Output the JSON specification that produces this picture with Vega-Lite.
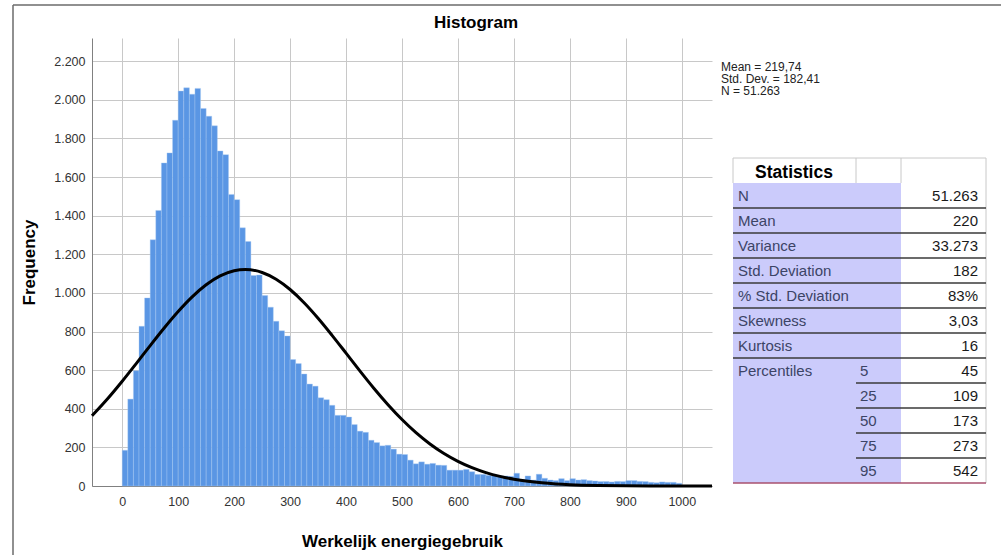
{
  "$schema": "https://vega.github.io/schema/vega-lite/v6.json",
  "width": 620,
  "height": 448,
  "autosize": {"type": "none"},
  "padding": {"left": 92, "top": 38, "right": 289, "bottom": 69},
  "background": "white",
  "title": {"text": "Histogram", "font": "Liberation Sans", "fontSize": 17, "fontWeight": "bold", "color": "#000000", "frame": "group", "anchor": "middle", "dx": 74, "offset": -28},
  "config": {
    "view": {"stroke": null},
    "font": "Liberation Sans",
    "axis": {"labelFont": "Liberation Sans", "labelFontSize": 12.5, "labelColor": "#333333", "titleFont": "Liberation Sans", "titleFontSize": 17, "titleFontWeight": "bold", "titleColor": "#000000", "domainColor": "#808080", "domainWidth": 1, "gridColor": "#c8c8c8", "gridWidth": 1, "ticks": false, "labelPadding": 7},
    "axisX": {"titlePadding": 26, "labelPadding": 9},
    "axisY": {"titlePadding": 15}
  },
  "datasets": {
    "bins": [
      {"lo":0,"hi":10,"n":185},{"lo":10,"hi":20,"n":450},{"lo":20,"hi":30,"n":597},{"lo":30,"hi":40,"n":827},{"lo":40,"hi":50,"n":974},
      {"lo":50,"hi":60,"n":1275},{"lo":60,"hi":70,"n":1427},{"lo":70,"hi":80,"n":1673},{"lo":80,"hi":90,"n":1725},{"lo":90,"hi":100,"n":1894},
      {"lo":100,"hi":110,"n":2045},{"lo":110,"hi":120,"n":2062},{"lo":120,"hi":130,"n":2029},{"lo":130,"hi":140,"n":2059},{"lo":140,"hi":150,"n":1955},
      {"lo":150,"hi":160,"n":1915},{"lo":160,"hi":170,"n":1865},{"lo":170,"hi":180,"n":1735},{"lo":180,"hi":190,"n":1716},{"lo":190,"hi":200,"n":1510},
      {"lo":200,"hi":210,"n":1483},{"lo":210,"hi":220,"n":1337},{"lo":220,"hi":230,"n":1266},{"lo":230,"hi":240,"n":1090},{"lo":240,"hi":250,"n":1093},
      {"lo":250,"hi":260,"n":986},{"lo":260,"hi":270,"n":926},{"lo":270,"hi":280,"n":853},{"lo":280,"hi":290,"n":804},{"lo":290,"hi":300,"n":777},
      {"lo":300,"hi":310,"n":655},{"lo":310,"hi":320,"n":634},{"lo":320,"hi":330,"n":580},{"lo":330,"hi":340,"n":528},{"lo":340,"hi":350,"n":517},
      {"lo":350,"hi":360,"n":457},{"lo":360,"hi":370,"n":447},{"lo":370,"hi":380,"n":418},{"lo":380,"hi":390,"n":366},{"lo":390,"hi":400,"n":366},
      {"lo":400,"hi":410,"n":357},{"lo":410,"hi":420,"n":318},{"lo":420,"hi":430,"n":284},{"lo":430,"hi":440,"n":278},{"lo":440,"hi":450,"n":237},
      {"lo":450,"hi":460,"n":225},{"lo":460,"hi":470,"n":208},{"lo":470,"hi":480,"n":211},{"lo":480,"hi":490,"n":191},{"lo":490,"hi":500,"n":165},
      {"lo":500,"hi":510,"n":163},{"lo":510,"hi":520,"n":134},{"lo":520,"hi":530,"n":115},{"lo":530,"hi":540,"n":125},{"lo":540,"hi":550,"n":113},
      {"lo":550,"hi":560,"n":117},{"lo":560,"hi":570,"n":108},{"lo":570,"hi":580,"n":107},{"lo":580,"hi":590,"n":82},{"lo":590,"hi":600,"n":82},
      {"lo":600,"hi":610,"n":82},{"lo":610,"hi":620,"n":86},{"lo":620,"hi":630,"n":74},{"lo":630,"hi":640,"n":60},{"lo":640,"hi":650,"n":60},
      {"lo":650,"hi":660,"n":55},{"lo":660,"hi":670,"n":55},{"lo":670,"hi":680,"n":52},{"lo":680,"hi":690,"n":52},{"lo":690,"hi":700,"n":50},
      {"lo":700,"hi":710,"n":66},{"lo":710,"hi":720,"n":35},{"lo":720,"hi":730,"n":52},{"lo":730,"hi":740,"n":31},{"lo":740,"hi":750,"n":61},
      {"lo":750,"hi":760,"n":40},{"lo":760,"hi":770,"n":31},{"lo":770,"hi":780,"n":28},{"lo":780,"hi":790,"n":38},{"lo":790,"hi":800,"n":28},
      {"lo":800,"hi":810,"n":38},{"lo":810,"hi":820,"n":31},{"lo":820,"hi":830,"n":33},{"lo":830,"hi":840,"n":28},{"lo":840,"hi":850,"n":26},
      {"lo":850,"hi":860,"n":23},{"lo":860,"hi":870,"n":23},{"lo":870,"hi":880,"n":21},{"lo":880,"hi":890,"n":24},{"lo":890,"hi":900,"n":23},
      {"lo":900,"hi":910,"n":28},{"lo":910,"hi":920,"n":28},{"lo":920,"hi":930,"n":24},{"lo":930,"hi":940,"n":23},{"lo":940,"hi":950,"n":19},
      {"lo":950,"hi":960,"n":17},{"lo":960,"hi":970,"n":21},{"lo":970,"hi":980,"n":19},{"lo":980,"hi":990,"n":19},{"lo":990,"hi":1000,"n":14}
    ],
    "curve": [
      {"v":-54,"f":363.6},{"v":-25,"f":455.7},{"v":0,"f":542.6},{"v":25,"f":634.1},{"v":50,"f":727.1},{"v":75,"f":818.2},
      {"v":100,"f":903.6},{"v":125,"f":979.5},{"v":150,"f":1042},{"v":175,"f":1087.8},{"v":200,"f":1114.5},{"v":220,"f":1121},
      {"v":250,"f":1105.7},{"v":275,"f":1070.7},{"v":300,"f":1017.5},{"v":325,"f":949.1},{"v":350,"f":868.7},{"v":375,"f":780.3},
      {"v":400,"f":688},{"v":425,"f":595.1},{"v":450,"f":505.3},{"v":475,"f":421.2},{"v":500,"f":344.4},{"v":525,"f":276.4},
      {"v":550,"f":217.7},{"v":575,"f":168.3},{"v":600,"f":127.7},{"v":625,"f":95},{"v":650,"f":69.4},{"v":675,"f":49.8},
      {"v":700,"f":35},{"v":725,"f":24.2},{"v":750,"f":16.4},{"v":775,"f":10.9},{"v":800,"f":7.1},{"v":850,"f":2.9},
      {"v":900,"f":1.1},{"v":950,"f":0.4},{"v":1000,"f":0.1},{"v":1054,"f":0}
    ],
    "cells": [{"c0":0,"c1":2,"r":1,"r2":13}],
    "darkLines": [
      {"c0":0,"c1":3,"r":2},{"c0":0,"c1":3,"r":3},{"c0":0,"c1":3,"r":4},{"c0":0,"c1":3,"r":5},
      {"c0":0,"c1":3,"r":6},{"c0":0,"c1":3,"r":7},{"c0":0,"c1":3,"r":8},
      {"c0":1,"c1":3,"r":9},{"c0":1,"c1":3,"r":10},{"c0":1,"c1":3,"r":11},{"c0":1,"c1":3,"r":12}
    ],
    "redLine": [{"c0":0,"c1":3,"r":13}],
    "lightH": [{"c0":0,"c1":3,"r":0}],
    "lightV": [{"c":0,"r0":0,"r1":1},{"c":1,"r0":0,"r1":1},{"c":2,"r0":0,"r1":1},{"c":3,"r0":0,"r1":13}],
    "header": [{"c":0,"r":0,"text":"Statistics"}],
    "stats": [
      {"r":1,"label":"N","sub":"","value":"51.263"},
      {"r":2,"label":"Mean","sub":"","value":"220"},
      {"r":3,"label":"Variance","sub":"","value":"33.273"},
      {"r":4,"label":"Std. Deviation","sub":"","value":"182"},
      {"r":5,"label":"% Std. Deviation","sub":"","value":"83%"},
      {"r":6,"label":"Skewness","sub":"","value":"3,03"},
      {"r":7,"label":"Kurtosis","sub":"","value":"16"},
      {"r":8,"label":"Percentiles","sub":"5","value":"45"},
      {"r":9,"label":"","sub":"25","value":"109"},
      {"r":10,"label":"","sub":"50","value":"173"},
      {"r":11,"label":"","sub":"75","value":"273"},
      {"r":12,"label":"","sub":"95","value":"542"}
    ],
    "annot": [{"c":-1,"r":-1,"text":"Mean = 219,74\nStd. Dev. = 182,41\nN = 51.263"}],
    "frame": [{"fx":0,"fx2":0,"fy":0,"fy2":1},{"fx":0,"fx2":1,"fy":0,"fy2":0}]
  },
  "layer": [
    {
      "layer": [
        {
          "data": {"name": "bins"},
          "mark": {"type": "rect", "fill": "#5a96e4", "stroke": "#a9c9f2", "strokeWidth": 0.4},
          "encoding": {
            "x": {"field": "lo", "type": "quantitative", "scale": {"domain": [-54, 1054], "nice": false, "zero": false},
                  "axis": {"values": [0,100,200,300,400,500,600,700,800,900,1000], "grid": true, "format": "d", "title": "Werkelijk energiegebruik"}},
            "x2": {"field": "hi"},
            "y": {"field": "n", "type": "quantitative", "scale": {"domain": [0, 2320], "nice": false, "zero": false},
                  "axis": {"values": [0,200,400,600,800,1000,1200,1400,1600,1800,2000,2200], "grid": true, "title": "Frequency",
                           "labelExpr": "replace(format(datum.value, ','), ',', '.')"}},
            "y2": {"datum": 0}
          }
        },
        {
          "data": {"name": "curve"},
          "mark": {"type": "line", "color": "#000000", "strokeWidth": 3, "interpolate": "monotone"},
          "encoding": {
            "x": {"field": "v", "type": "quantitative", "scale": {"domain": [-54, 1054], "nice": false, "zero": false}, "axis": {"title": "Werkelijk energiegebruik"}},
            "y": {"field": "f", "type": "quantitative", "scale": {"domain": [0, 2320], "nice": false, "zero": false}, "axis": {"title": "Frequency"}}
          }
        }
      ]
    },
    {
      "layer": [
        {
          "data": {"name": "cells"},
          "mark": {"type": "rect", "fill": "#cbcbfb"},
          "encoding": {
            "x": {"field": "c0", "type": "quantitative", "scale": {"domain": [-1,0,1,2,3], "range": [629,641,764,809,894], "nice": false, "zero": false}, "axis": null},
            "x2": {"field": "c1"},
            "y": {"field": "r", "type": "quantitative", "scale": {"domain": [-1,0,13], "range": [24,120,445], "nice": false, "zero": false}, "axis": null},
            "y2": {"field": "r2"}
          }
        },
        {
          "data": {"name": "lightH"},
          "mark": {"type": "rule", "color": "#c8c8c8", "strokeWidth": 1},
          "encoding": {
            "x": {"field": "c0", "type": "quantitative", "scale": {"domain": [-1,0,1,2,3], "range": [629,641,764,809,894], "nice": false, "zero": false}, "axis": null},
            "x2": {"field": "c1"},
            "y": {"field": "r", "type": "quantitative", "scale": {"domain": [-1,0,13], "range": [24,120,445], "nice": false, "zero": false}, "axis": null}
          }
        },
        {
          "data": {"name": "lightV"},
          "mark": {"type": "rule", "color": "#c8c8c8", "strokeWidth": 1},
          "encoding": {
            "x": {"field": "c", "type": "quantitative", "scale": {"domain": [-1,0,1,2,3], "range": [629,641,764,809,894], "nice": false, "zero": false}, "axis": null},
            "y": {"field": "r0", "type": "quantitative", "scale": {"domain": [-1,0,13], "range": [24,120,445], "nice": false, "zero": false}, "axis": null},
            "y2": {"field": "r1"}
          }
        },
        {
          "data": {"name": "darkLines"},
          "mark": {"type": "rule", "color": "#3a3a3a", "strokeWidth": 1.5},
          "encoding": {
            "x": {"field": "c0", "type": "quantitative", "scale": {"domain": [-1,0,1,2,3], "range": [629,641,764,809,894], "nice": false, "zero": false}, "axis": null},
            "x2": {"field": "c1"},
            "y": {"field": "r", "type": "quantitative", "scale": {"domain": [-1,0,13], "range": [24,120,445], "nice": false, "zero": false}, "axis": null}
          }
        },
        {
          "data": {"name": "redLine"},
          "mark": {"type": "rule", "color": "#a8506e", "strokeWidth": 1.5},
          "encoding": {
            "x": {"field": "c0", "type": "quantitative", "scale": {"domain": [-1,0,1,2,3], "range": [629,641,764,809,894], "nice": false, "zero": false}, "axis": null},
            "x2": {"field": "c1"},
            "y": {"field": "r", "type": "quantitative", "scale": {"domain": [-1,0,13], "range": [24,120,445], "nice": false, "zero": false}, "axis": null}
          }
        },
        {
          "data": {"name": "header"},
          "mark": {"type": "text", "font": "Liberation Sans", "fontSize": 17.5, "fontWeight": "bold", "color": "#000000", "align": "center", "baseline": "middle", "dx": 61, "dy": 15},
          "encoding": {
            "x": {"field": "c", "type": "quantitative", "scale": {"domain": [-1,0,1,2,3], "range": [629,641,764,809,894], "nice": false, "zero": false}, "axis": null},
            "y": {"field": "r", "type": "quantitative", "scale": {"domain": [-1,0,13], "range": [24,120,445], "nice": false, "zero": false}, "axis": null},
            "text": {"field": "text"}
          }
        },
        {
          "data": {"name": "stats"},
          "mark": {"type": "text", "font": "Liberation Sans", "fontSize": 15, "color": "#3c4466", "align": "left", "baseline": "middle", "dx": 5, "dy": 12.5},
          "encoding": {
            "x": {"datum": 0, "type": "quantitative", "scale": {"domain": [-1,0,1,2,3], "range": [629,641,764,809,894], "nice": false, "zero": false}, "axis": null},
            "y": {"field": "r", "type": "quantitative", "scale": {"domain": [-1,0,13], "range": [24,120,445], "nice": false, "zero": false}, "axis": null},
            "text": {"field": "label"}
          }
        },
        {
          "data": {"name": "stats"},
          "mark": {"type": "text", "font": "Liberation Sans", "fontSize": 15, "color": "#3c4466", "align": "left", "baseline": "middle", "dx": 4, "dy": 12.5},
          "encoding": {
            "x": {"datum": 1, "type": "quantitative", "scale": {"domain": [-1,0,1,2,3], "range": [629,641,764,809,894], "nice": false, "zero": false}, "axis": null},
            "y": {"field": "r", "type": "quantitative", "scale": {"domain": [-1,0,13], "range": [24,120,445], "nice": false, "zero": false}, "axis": null},
            "text": {"field": "sub"}
          }
        },
        {
          "data": {"name": "stats"},
          "mark": {"type": "text", "font": "Liberation Sans", "fontSize": 15, "color": "#1a1a1a", "align": "right", "baseline": "middle", "dx": -8, "dy": 12.5},
          "encoding": {
            "x": {"datum": 3, "type": "quantitative", "scale": {"domain": [-1,0,1,2,3], "range": [629,641,764,809,894], "nice": false, "zero": false}, "axis": null},
            "y": {"field": "r", "type": "quantitative", "scale": {"domain": [-1,0,13], "range": [24,120,445], "nice": false, "zero": false}, "axis": null},
            "text": {"field": "value"}
          }
        },
        {
          "data": {"name": "annot"},
          "mark": {"type": "text", "font": "Liberation Sans", "fontSize": 12, "color": "#222222", "align": "left", "baseline": "top", "lineBreak": "\n", "lineHeight": 12},
          "encoding": {
            "x": {"field": "c", "type": "quantitative", "scale": {"domain": [-1,0,1,2,3], "range": [629,641,764,809,894], "nice": false, "zero": false}, "axis": null},
            "y": {"field": "r", "type": "quantitative", "scale": {"domain": [-1,0,13], "range": [24,120,445], "nice": false, "zero": false}, "axis": null},
            "text": {"field": "text"}
          }
        }
      ]
    },
    {
      "data": {"name": "frame"},
      "mark": {"type": "rule", "color": "#6b6b6b", "strokeWidth": 1.5},
      "encoding": {
        "x": {"field": "fx", "type": "quantitative", "scale": {"domain": [0, 1], "range": [-79, 909], "nice": false, "zero": false}, "axis": null},
        "x2": {"field": "fx2"},
        "y": {"field": "fy", "type": "quantitative", "scale": {"domain": [0, 1], "range": [-33, 520], "nice": false, "zero": false}, "axis": null},
        "y2": {"field": "fy2"}
      }
    }
  ],
  "resolve": {"scale": {"x": "independent", "y": "independent"}}
}
